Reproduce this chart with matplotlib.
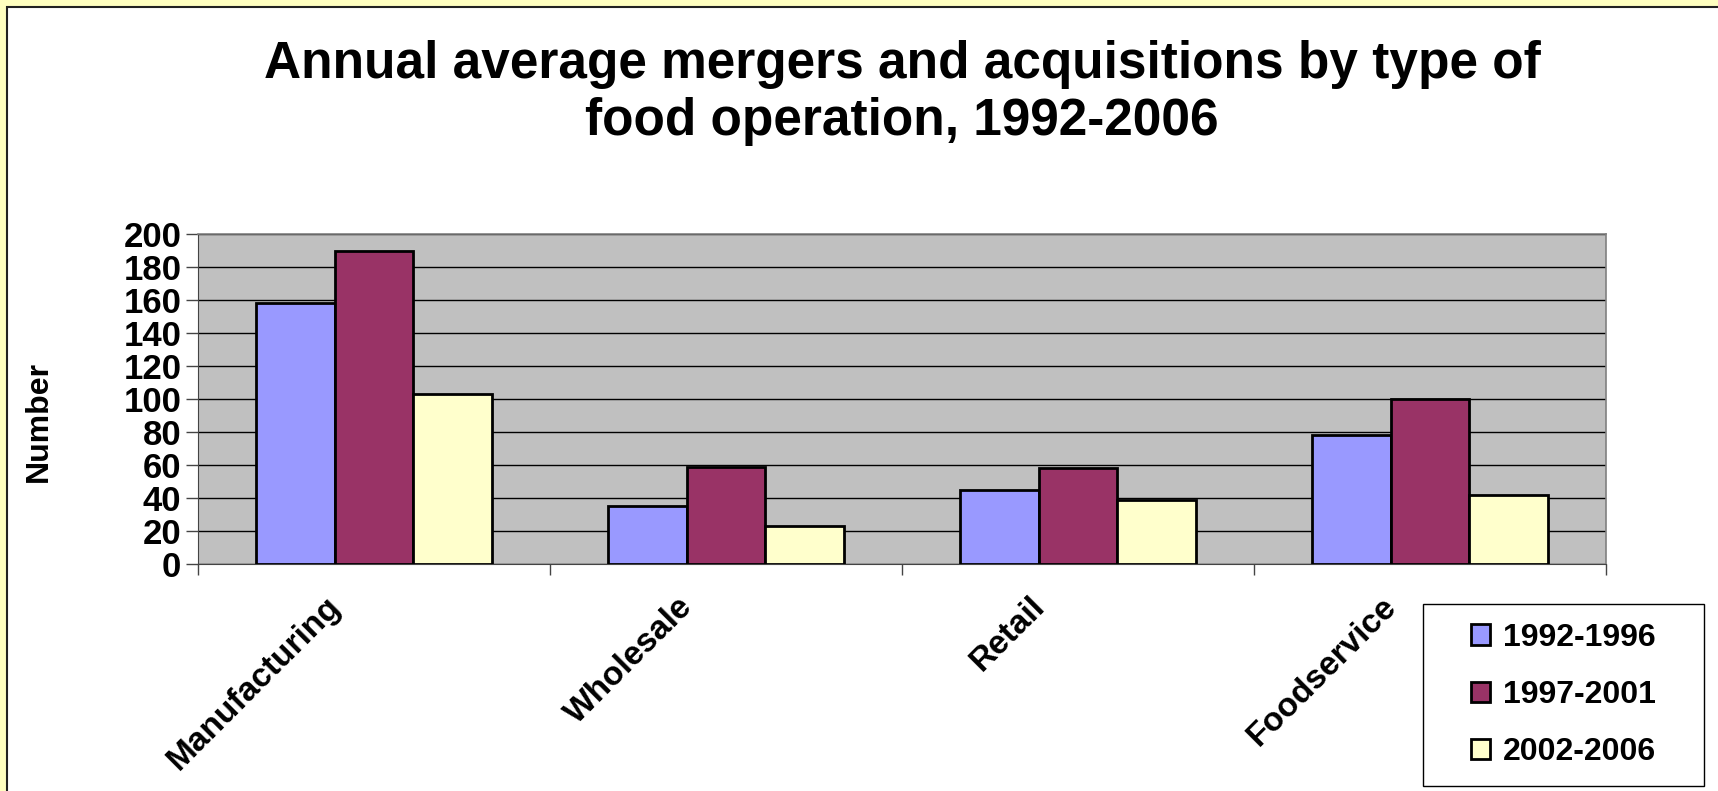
import numpy as np
import matplotlib
matplotlib.use("Agg")
import matplotlib.pyplot as plt
from matplotlib.patches import Rectangle
from matplotlib.transforms import ScaledTranslation

# ============================================================
# DATA
# ============================================================
categories = ["Manufacturing", "Wholesale", "Retail", "Foodservice"]
periods = ["1992-1996", "1997-2001", "2002-2006"]
vals_1992_1996 = [158, 35, 45, 78]
vals_1997_2001 = [190, 59, 58, 100]
vals_2002_2006 = [103, 23, 39, 42]
series = [vals_1992_1996, vals_1997_2001, vals_2002_2006]
colors = ["#9999FF", "#993366", "#FFFFCC"]
yticks = list(range(0, 201, 20))

plt.rcParams["font.family"] = ["Liberation Sans", "DejaVu Sans"]
plt.rcParams["font.weight"] = "bold"

W, H = 1718, 791
fig = plt.figure(figsize=(W / 100, H / 100), dpi=100)
fig.patch.set_facecolor("#FFFFC0")

# white chart area with dark top/left edge
bg = Rectangle((7 / W, -0.1), 1.2, 1 - 6.5 / H + 0.1,
               transform=fig.transFigure, facecolor="white",
               edgecolor="#222222", linewidth=1.5, zorder=-10)
fig.add_artist(bg)

ax = fig.add_axes([198 / W, 1 - 564 / H, (1606 - 198) / W, (564 - 234) / H])
ax.set_facecolor("#C0C0C0")

x = np.arange(len(categories))
bw = 0.2236
for i, (vals, c, lab) in enumerate(zip(series, colors, periods)):
    ax.bar(x + (i - 1) * bw, vals, width=bw, color=c, edgecolor="black",
           linewidth=2.0, label=lab, zorder=3)

ax.set_xlim(-0.5, len(categories) - 0.5)
ax.set_ylim(0, 200)
ax.set_yticks(yticks)
ax.set_yticklabels([str(t) for t in yticks], fontsize=25, fontweight="bold")
ax.yaxis.grid(True, color="black", linewidth=1.0, zorder=1)
ax.set_axisbelow(True)

# category boundary ticks
ax.set_xticks(np.arange(-0.5, len(categories), 1.0))
ax.set_xticklabels([])
ax.tick_params(axis="x", length=8, width=1, color="#444444")
ax.tick_params(axis="y", length=9, width=1, color="#444444", pad=3)
for s in ["top", "right"]:
    ax.spines[s].set_color("#808080")
    ax.spines[s].set_linewidth(1.2)
ax.spines["left"].set_color("#444444")
ax.spines["bottom"].set_color("#444444")

# rotated category labels
off = ScaledTranslation(-0.38, -0.38, fig.dpi_scale_trans)
for xi, name in zip(x, categories):
    ax.text(xi, 0, name, rotation=45, ha="right", va="center",
            rotation_mode="anchor", fontsize=24, fontweight="bold",
            transform=ax.get_xaxis_transform() + off)

fig.text(39 / W, 1 - 421 / H, "Number", rotation=90, ha="center",
         va="center", fontsize=23, fontweight="bold")

fig.text(902 / W, 1 - 40 / H,
         "Annual average mergers and acquisitions by type of\nfood operation, 1992-2006",
         ha="center", va="top", fontsize=37, fontweight="bold", linespacing=1.22)

# legend box
lx0, ly0, lx1, ly1 = 1423, 604, 1704, 786
fig.add_artist(Rectangle((lx0 / W, 1 - ly1 / H), (lx1 - lx0) / W, (ly1 - ly0) / H,
                         transform=fig.transFigure, facecolor="white",
                         edgecolor="black", linewidth=1.0, zorder=5))
leg = fig.legend(loc="center", bbox_to_anchor=((lx0 + lx1) / 2 / W, 1 - (ly0 + ly1) / 2 / H),
                 fontsize=23, frameon=False,
                 handlelength=0.6, handleheight=0.6, handletextpad=0.4,
                 labelspacing=0.85, borderpad=0, borderaxespad=0)
leg.set_zorder(6)
for t in leg.get_texts():
    t.set_fontweight("bold")

fig.savefig("out.png", dpi=100, facecolor=fig.get_facecolor())
